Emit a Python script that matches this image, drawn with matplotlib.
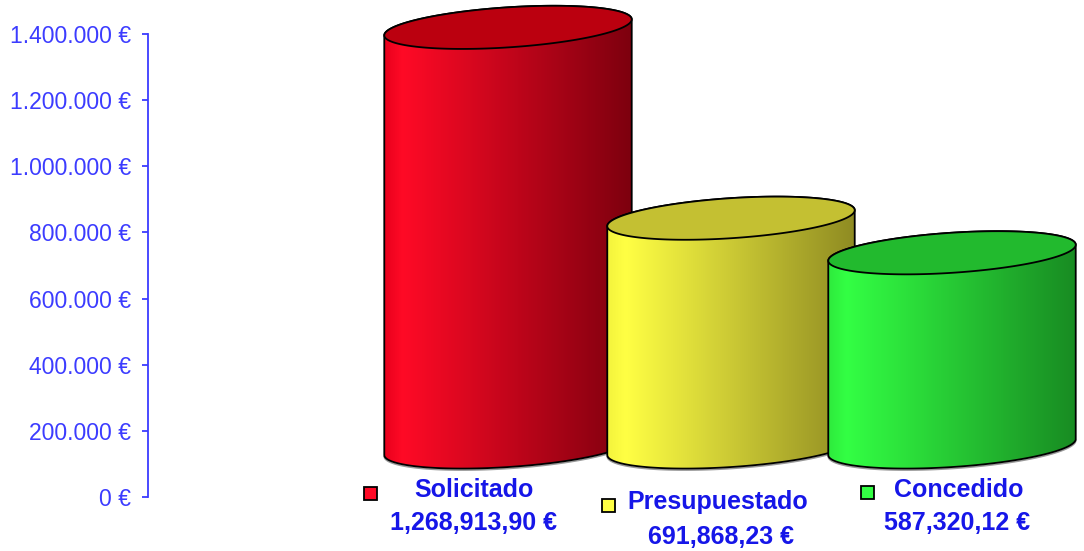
import numpy as np
import matplotlib.pyplot as plt
from matplotlib.patches import Polygon, Rectangle
from matplotlib.colors import LinearSegmentedColormap

plt.rcParams['font.family'] = ['Liberation Sans', 'DejaVu Sans']

# data
categories = ['Solicitado', 'Presupuestado', 'Concedido']
values = [1268913.90, 691868.23, 587320.12]
value_labels = ['1,268,913,90 €', '691,868,23 €', '587,320,12 €']
ytick_values = [0, 200000, 400000, 600000, 800000, 1000000, 1200000, 1400000]
ytick_labels = ['0 €', '200.000 €', '400.000 €', '600.000 €', '800.000 €',
                '1.000.000 €', '1.200.000 €', '1.400.000 €']

# styles: (left edge, highlight, dark right edge), top face
side_colors = [('#e6001c', '#ff0a26', '#7c000e'),
               ('#f2f23c', '#ffff44', '#8e8a22'),
               ('#2ee83c', '#33ff44', '#188a22')]
top_colors = ['#bb000f', '#c4c032', '#22ba2e']
text_blue = '#3c3cff'
label_blue = '#1616e8'

W, H = 1084, 551
fig = plt.figure(figsize=(W / 100, H / 100), dpi=100)

# axis: left spine at x=148 px, 0 at y=497 px, 1.4M at y=34 px
x0, y0, y1 = 148, 497, 34
EPP = 1400000 / (y0 - y1)          # euros per pixel
ax = fig.add_axes([x0 / W, 0, (W - x0) / W, 1])


def px(xp, yp):
    return xp - x0, (y0 - yp) * EPP


A, B = 124, 20                      # ellipse semi axes (px)
theta = np.radians(3.8)
ct, st = np.cos(theta), np.sin(theta)
base = px(0, 447)[1]                # cylinder base centre
centers = [508, 731, 952]


def ellipse(cx, cy, t):
    dx = A * np.cos(t) * ct - B * np.sin(t) * st
    dy = A * np.cos(t) * st + B * np.sin(t) * ct
    return np.column_stack([cx + dx, cy + dy * EPP])


for i, v in enumerate(values):
    cx = centers[i] - x0
    top = base + v
    z = 2 + i
    low = ellipse(cx, base, np.linspace(np.pi, 2 * np.pi, 120))
    up = ellipse(cx, top, np.linspace(0, np.pi, 120))
    side = Polygon(np.vstack([low, up]), closed=True, facecolor='none',
                   edgecolor='none', zorder=z)
    ax.add_patch(side)
    c0, c1, c2 = side_colors[i]
    cmap = LinearSegmentedColormap.from_list(
        'c%d' % i, [(0, c0), (0.08, c1), (1, c2)])
    im = ax.imshow(np.linspace(0, 1, 256).reshape(1, -1), cmap=cmap,
                   aspect='auto', interpolation='bilinear',
                   extent=[cx - A - 2, cx + A + 2, base - 40 * EPP, top + 40 * EPP],
                   zorder=z)
    im.set_clip_path(side)
    # outline of side
    ax.plot(low[:, 0] + 0, low[:, 1] - 1.5 * EPP, color='#999999', lw=1.2, zorder=z)
    ax.add_patch(Polygon(np.vstack([low, up]), closed=True, facecolor='none',
                         edgecolor='black', lw=1.3, zorder=z + 0.1))
    topell = ellipse(cx, top, np.linspace(0, 2 * np.pi, 240))
    ax.add_patch(Polygon(topell, closed=True, facecolor=top_colors[i],
                         edgecolor='black', lw=1.3, zorder=z + 0.2))

# labels under the cylinders
name_pos = [(474, 490), (718, 502), (959, 490)]
value_pos = [(473, 523), (721, 537), (957, 523)]
square_pos = [(370, 493), (608, 505), (867, 492)]
for i, name in enumerate(categories):
    ax.text(*px(*name_pos[i]), name, ha='center', va='center',
            fontsize=18, fontweight='bold', color=label_blue)
    ax.text(*px(*value_pos[i]), value_labels[i], ha='center', va='center',
            fontsize=18, fontweight='bold', color=label_blue)
    sx, sy = px(square_pos[i][0] - 6.5, square_pos[i][1] + 6.5)
    ax.add_patch(Rectangle((sx, sy), 13, 13 * EPP, facecolor=side_colors[i][1],
                           edgecolor='black', lw=1.3, clip_on=False, zorder=5))

# y axis
ax.set_xlim(0, W - x0)
ax.set_ylim(-(H - y0) * EPP, y0 * EPP)
for s in ['top', 'right', 'bottom']:
    ax.spines[s].set_visible(False)
ax.spines['left'].set_bounds(0, 1400000)
ax.spines['left'].set_color(text_blue)
ax.spines['left'].set_linewidth(1.3)
ax.set_xticks([])
ax.set_yticks(ytick_values)
ax.set_yticklabels(ytick_labels)
ax.tick_params(axis='y', colors=text_blue, length=4, width=1.3, pad=8,
               labelsize=16.5)
ax.patch.set_visible(False)

fig.savefig('out.png', dpi=100)
